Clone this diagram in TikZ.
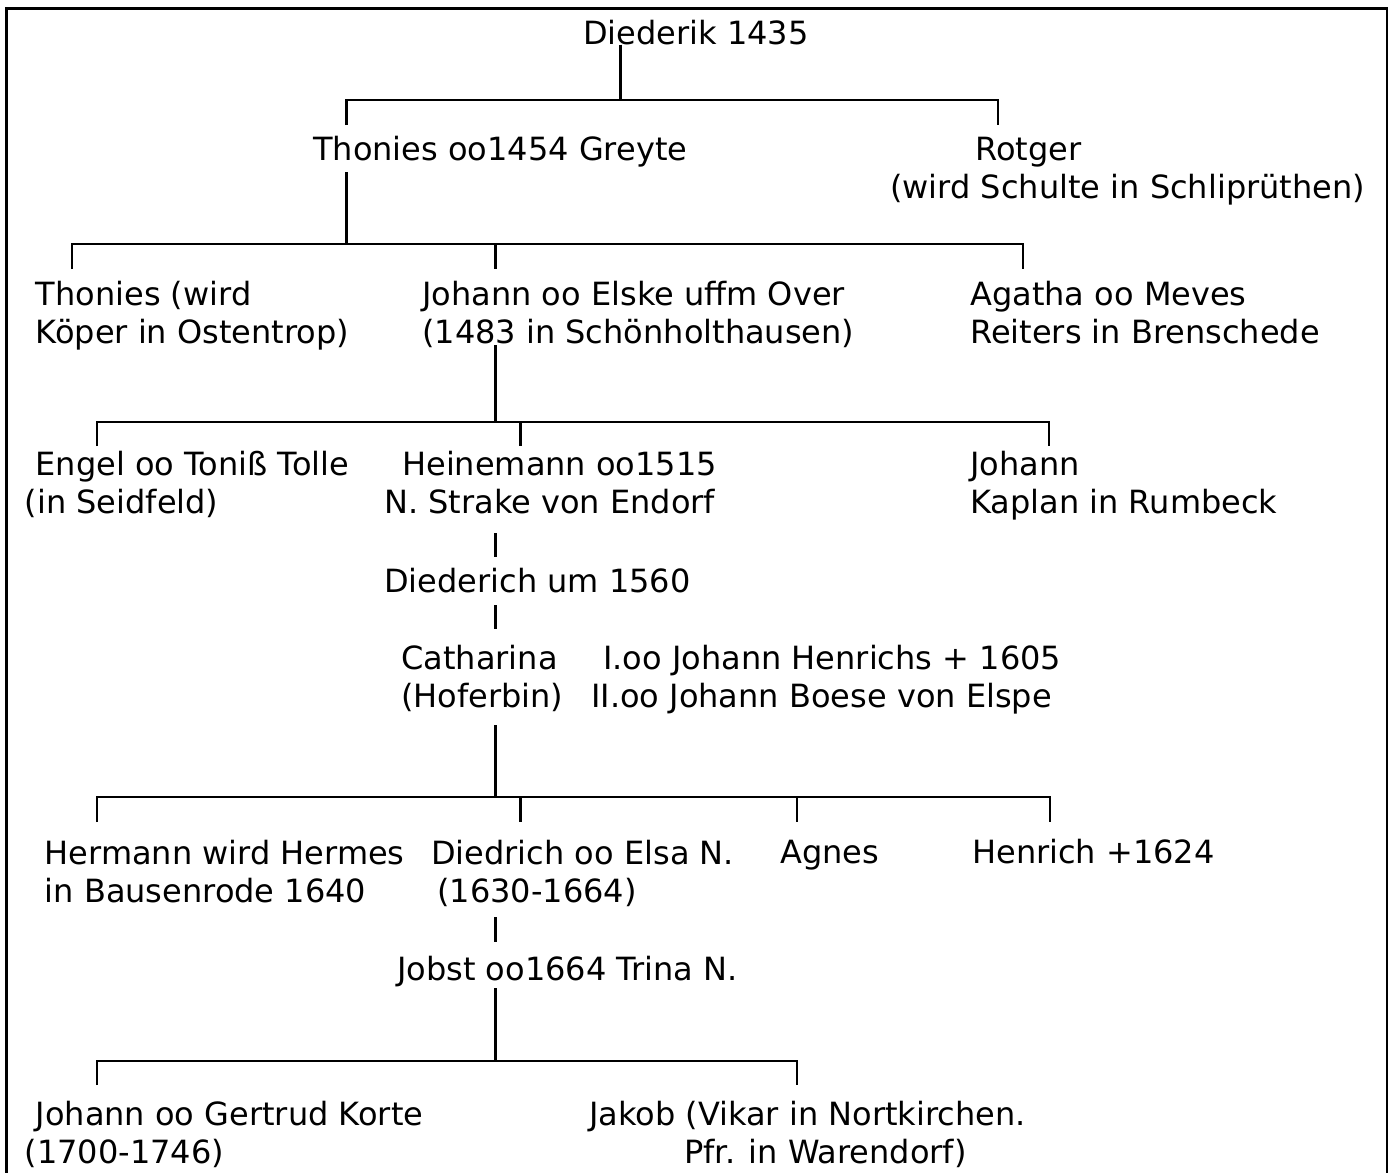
\documentclass[tikz,border=0pt]{standalone}
\usepackage{fontspec}
\setmainfont{DejaVu Sans}
\usetikzlibrary{positioning}
\newdimen\pxu \pxu=0.75pt
\newcommand{\ind}[1]{\hspace*{#1\pxu}}
\tikzset{
  person/.style={anchor=base west, inner sep=0pt, align=left, font=\fontsize{24}{28.5}\selectfont},
  link/.style={line width=1.6pt},
}

\begin{document}
\begin{tikzpicture}[x=0.75pt, y=-0.75pt]
  \useasboundingbox (0,0) rectangle (1393,1172);
  \draw[line width=1.6pt] (6.5,1180) -- (6.5,8.5) -- (1387,8.5) -- (1387,1180);

  % persons (two-line nodes sit on the baseline of their last line)
  \node[person] (die) at (583,44) {Diederik 1435};
  \node[person] (thon) at (313,160) {Thonies oo1454 Greyte};
  \node[person] (rotg) at (890,198) {\ind{85}Rotger\\(wird Schulte in Schliprüthen)};
  \node[person] (thon2) at (35.5,343) {Thonies (wird\\Köper in Ostentrop)};
  \node[person] (joh) at (422,343) {Johann oo Elske uffm Over\\(1483 in Schönholthausen)};
  \node[person] (agat) at (970,343) {Agatha oo Meves\\Reiters in Brenschede};
  \node[person] (eng) at (24.5,513) {\ind{11}Engel oo Toniß Tolle\\(in Seidfeld)};
  \node[person] (hein) at (384,513) {\ind{18}Heinemann oo1515\\N. Strake von Endorf};
  \node[person] (johk) at (970,513) {Johann\\Kaplan in Rumbeck};
  \node[person] (dich) at (384,592) {Diederich um 1560};
  \node[person] (cath) at (401,707) {Catharina\\(Hoferbin)};
  \node[person] (marr) at (591,707) {\ind{12}I.oo Johann Henrichs + 1605\\II.oo Johann Boese von Elspe};
  \node[person] (herm) at (44.5,902) {Hermann wird Hermes\\in Bausenrode 1640};
  \node[person] (dded) at (431,902) {Diedrich oo Elsa N.\\\ind{6}(1630-1664)};
  \node[person] (agn) at (780,863) {Agnes};
  \node[person] (henr) at (972,863) {Henrich +1624};
  \node[person] (jobst) at (397,980) {Jobst oo1664 Trina N.};
  \node[person] (jgk) at (24.5,1163) {\ind{11}Johann oo Gertrud Korte\\(1700-1746)};
  \node[person] (jak) at (589,1163) {Jakob (Vikar in Nortkirchen.\\\ind{95}Pfr. in Warendorf)};

  % junctions and line ends
  \coordinate (j1) at (620.5,100);
  \coordinate (j2) at (346.5,244);
  \coordinate (j3) at (495.5,422);
  \coordinate (j5) at (495.5,797);
  \coordinate (j7) at (495.5,1061);
  \coordinate (d-thon) at (346.5,125);
  \coordinate (d-rotg) at (998,125);
  \coordinate (u-thon) at (346.5,172);
  \coordinate (d-thon2) at (72,269);
  \coordinate (d-agat) at (1023,269);
  \coordinate (m2) at (495.5,244);
  \coordinate (d-joh) at (495.5,269);
  \coordinate (u-joh) at (495.5,345);
  \coordinate (d-eng) at (97,446);
  \coordinate (d-johk) at (1049,446);
  \coordinate (m3) at (520.5,422);
  \coordinate (d-hein) at (520.5,446);
  \coordinate (u-hein) at (495.5,533);
  \coordinate (d-dich) at (495.5,557);
  \coordinate (u-dich) at (495.5,605);
  \coordinate (d-cath) at (495.5,629);
  \coordinate (u-cath) at (495.5,725);
  \coordinate (d-herm) at (97,822);
  \coordinate (d-henr) at (1050,822);
  \coordinate (m5a) at (520.5,797);
  \coordinate (d-dded) at (520.5,822);
  \coordinate (m5b) at (797,797);
  \coordinate (d-agn) at (797,822);
  \coordinate (u-dded) at (495.5,917);
  \coordinate (d-jobst) at (495.5,942);
  \coordinate (u-jobst) at (495.5,988);
  \coordinate (d-jgk) at (97,1085);
  \coordinate (d-jak) at (797,1085);

  % lines
  \draw[link] (die.south -| j1) -- (j1);
  \draw[link] (d-thon) |- (j1) -| (d-rotg);
  \draw[link] (u-thon) -- (j2);
  \draw[link] (d-thon2) |- (j2) -| (d-agat);
  \draw[link] (m2) -- (d-joh);
  \draw[link] (u-joh) -- (j3);
  \draw[link] (d-eng) |- (j3) -| (d-johk);
  \draw[link] (m3) -- (d-hein);
  \draw[link] (u-hein) -- (d-dich);
  \draw[link] (u-dich) -- (d-cath);
  \draw[link] (u-cath) -- (j5);
  \draw[link] (d-herm) |- (j5) -| (d-henr);
  \draw[link] (m5a) -- (d-dded);
  \draw[link] (m5b) -- (d-agn);
  \draw[link] (u-dded) -- (d-jobst);
  \draw[link] (u-jobst) -- (j7);
  \draw[link] (d-jgk) |- (j7) -| (d-jak);
\end{tikzpicture}
\end{document}
